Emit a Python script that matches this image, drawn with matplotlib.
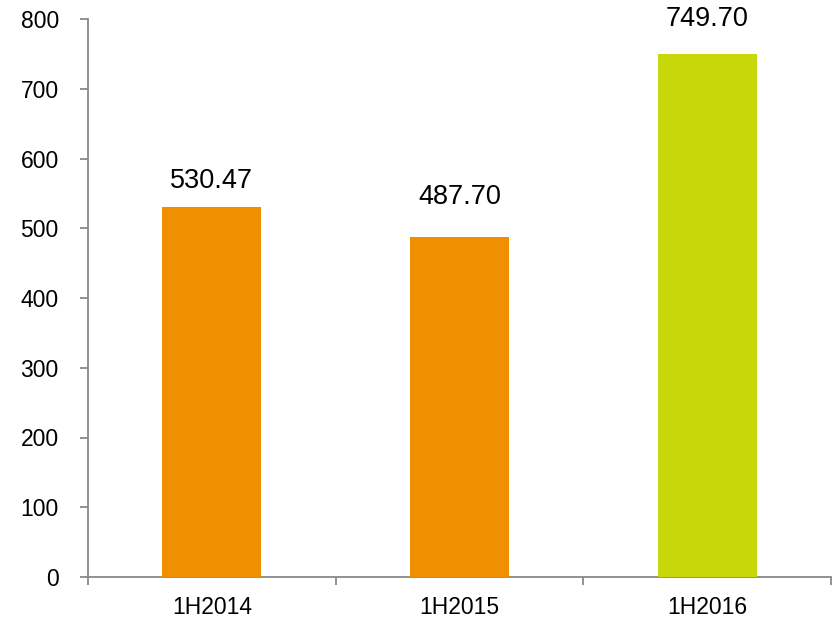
import matplotlib
matplotlib.use("Agg")
import matplotlib.pyplot as plt

categories = ["1H2014", "1H2015", "1H2016"]
values = [530.47, 487.70, 749.70]
labels = ["530.47", "487.70", "749.70"]
colors = ["#F09000", "#F09000", "#C8D70A"]
yticks = [0, 100, 200, 300, 400, 500, 600, 700, 800]

plt.rcParams['font.family'] = ['Liberation Sans', 'DejaVu Sans']

fig = plt.figure(figsize=(8.39, 6.19), dpi=100)
ax = fig.add_axes([88/839, 1-577/619, (831-88)/839, (577-19)/619])

x = list(range(len(categories)))
ax.bar(x, values, width=0.40, color=colors, zorder=3)

label_offsets = [13, 27, 22]  # pixels gap above bar top
for xi, v, lab, off in zip(x, values, labels, label_offsets):
    ax.annotate(lab, (xi, v), xytext=(0, off), textcoords='offset pixels',
                ha='center', va='bottom', fontsize=19.5, color='black')

ax.set_xlim(-0.5, len(categories) - 0.5)
ax.set_ylim(0, 800)
ax.set_yticks(yticks)
ax.set_yticklabels([str(t) for t in yticks], fontsize=16.5)
ax.set_xticks(x)
ax.set_xticklabels(categories, fontsize=16.5)
ax.set_xticks([-0.5, 0.5, 1.5, 2.5], minor=True)
ax.tick_params(axis='x', which='major', length=0, pad=14)
ax.tick_params(axis='x', which='minor', length=6, color='#888888', width=1.3, direction='out')
ax.tick_params(axis='y', length=6, color='#888888', width=1.3, direction='out', pad=15)

for s in ['top', 'right']:
    ax.spines[s].set_visible(False)
for s in ['left', 'bottom']:
    ax.spines[s].set_color('#888888')
    ax.spines[s].set_linewidth(1.3)

fig.savefig("out.png", dpi=100)
